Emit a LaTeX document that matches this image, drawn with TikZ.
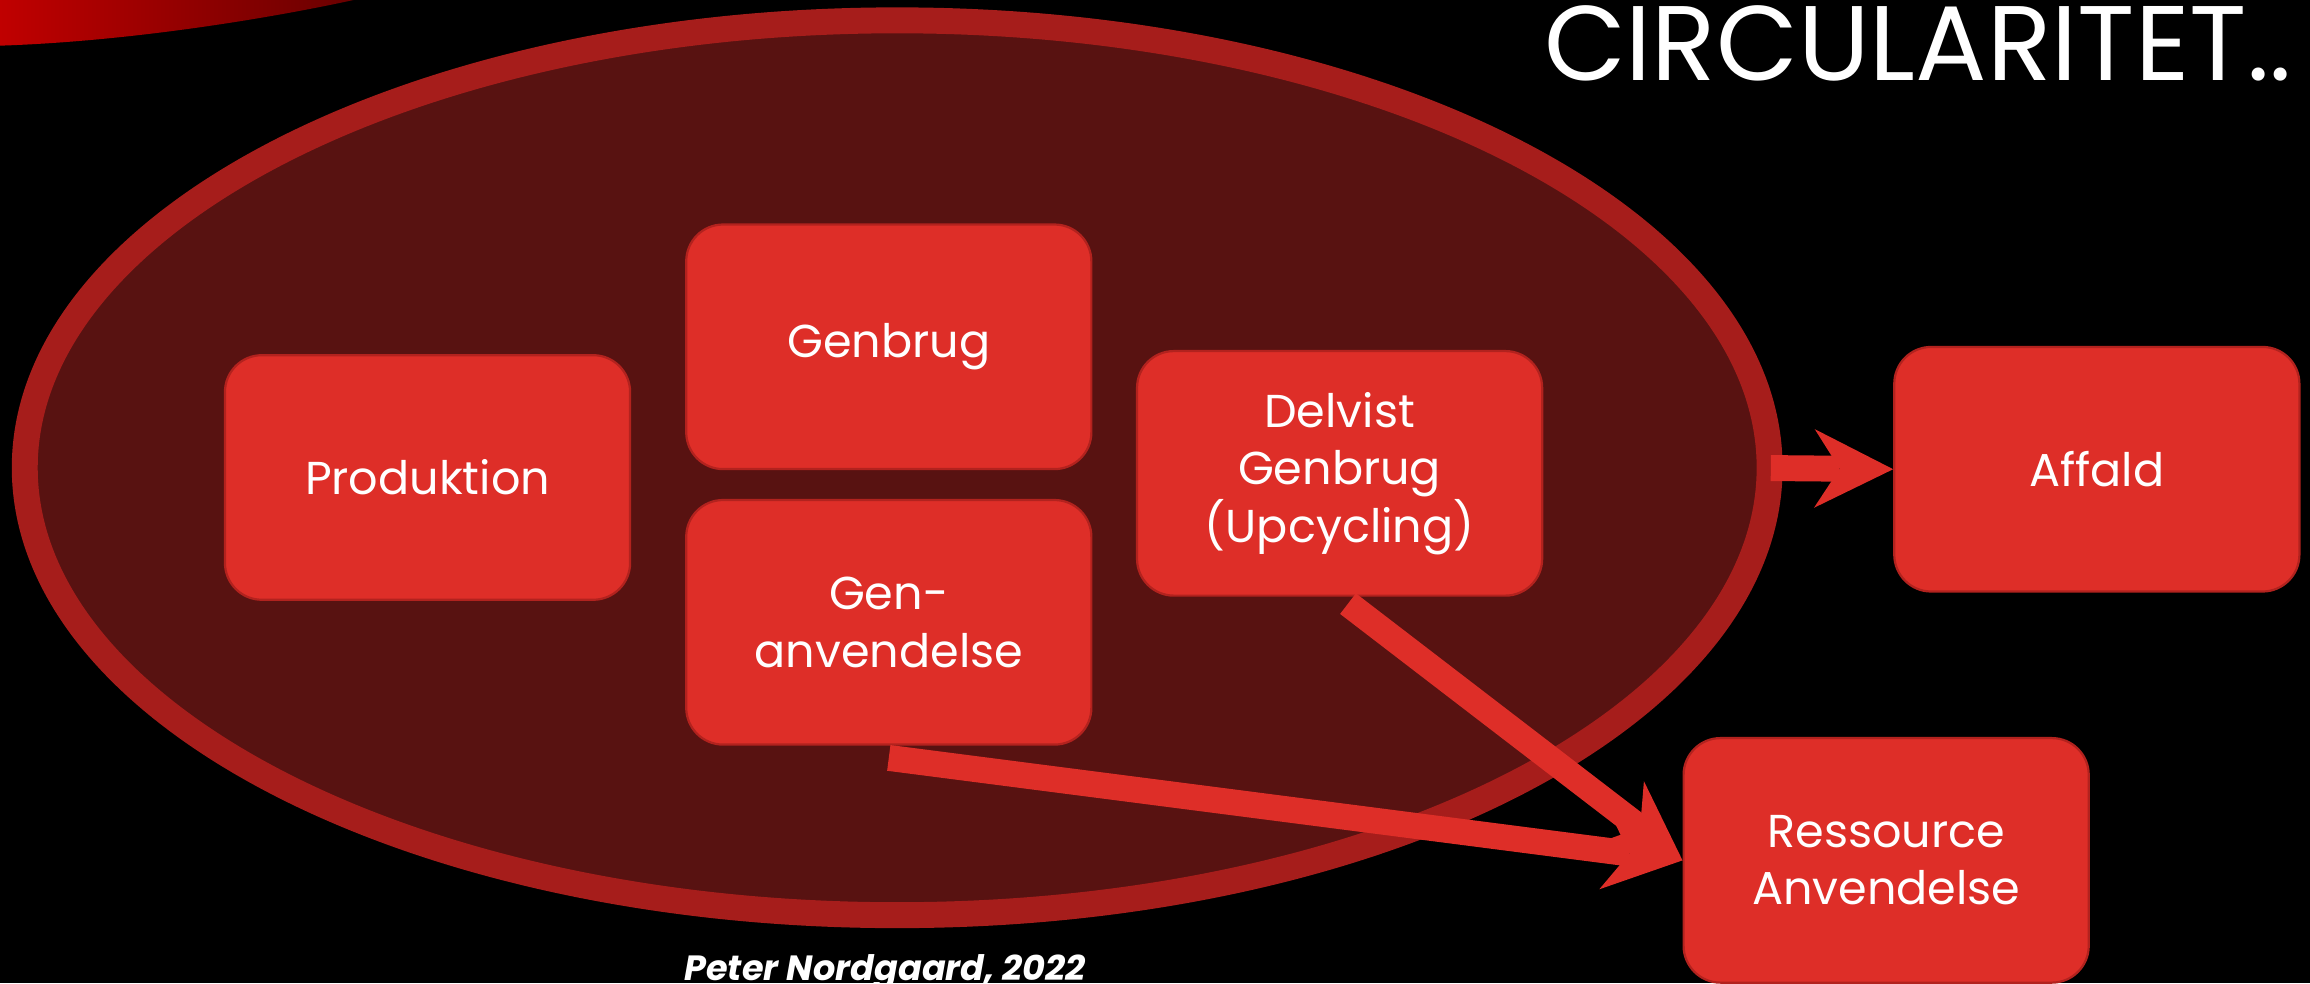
\documentclass[tikz,border=0pt]{standalone}
\usepackage{fontspec}
\setmainfont{Poppins}
\usetikzlibrary{arrows.meta,calc}
\definecolor{boxred}{RGB}{222,46,40}
\definecolor{boxedge}{RGB}{178,34,30}
\definecolor{ringred}{RGB}{166,29,27}
\definecolor{innerred}{RGB}{88,18,17}
\definecolor{swooshA}{RGB}{192,0,0}
\definecolor{swooshB}{RGB}{105,0,0}
\begin{document}
\begin{tikzpicture}[x=1pt,y=-1pt,
  stepbox/.style={draw=boxedge, line width=1.5pt, fill=boxred, rounded corners=25pt,
    minimum width=275pt, minimum height=166pt, text=white, align=center, inner sep=0pt,
    font=\fontsize{31.3}{39}\selectfont},
  bigarrow/.style={draw=boxred, line width=17.6pt,
    -{Stealth[length=53.5pt,width=53.4pt,inset=17.2pt,line width=0pt]}}]
\useasboundingbox (0,0) rectangle (1568,667.3);
\fill[black] (0,0) rectangle (1568,667.3);
% top-left swoosh
\shade[left color=swooshA, right color=swooshB] (0,0) -- (240,0) .. controls (185,12) and (90,28) .. (0,31) -- cycle;
% ellipse
\fill[innerred] (609,317.5) ellipse [x radius=592.2pt, y radius=303.7pt];
\draw[ringred, line width=17.6pt] (609,317.5) ellipse [x radius=592.2pt, y radius=303.7pt];
% boxes
\node[stepbox] (produktion) at (290.2,324.1) {Produktion};
\node[stepbox] (genbrug) at (603.3,235.4) {Genbrug};
\node[stepbox] (genanv) at (603.3,422.4) {Gen-\\anvendelse};
\node[stepbox] (delvist) at (909.3,321.3) {Delvist\\Genbrug\\(Upcycling)};
\node[stepbox] (affald) at (1423.3,318.5) {Affald};
\node[stepbox] (ressource) at (1280.3,584) {Ressource\\Anvendelse};
% arrows
\coordinate (wastestart) at (1202,317.7);
\coordinate (upstart) at ($(delvist.south)+(5.7,4.7)$);
\coordinate (reusestart) at ($(genanv.south)+(0,8.3)$);
\draw[bigarrow] (wastestart) -- (affald.west);
\draw[bigarrow] (upstart) -- (ressource.west);
\draw[bigarrow] (reusestart) -- (ressource.west);
% texts
\node[anchor=base east, inner sep=0pt, text=white, font=\fontsize{72}{80}\selectfont] (title) at (1555.7,54.3) {CIRCULARITET..};
\node[anchor=base west, inner sep=0pt, text=white, font=\fontsize{23.8}{28}\selectfont\bfseries\itshape] (credit) at (464.4,665.5) {Peter Nordgaard, 2022};
\end{tikzpicture}
\end{document}
